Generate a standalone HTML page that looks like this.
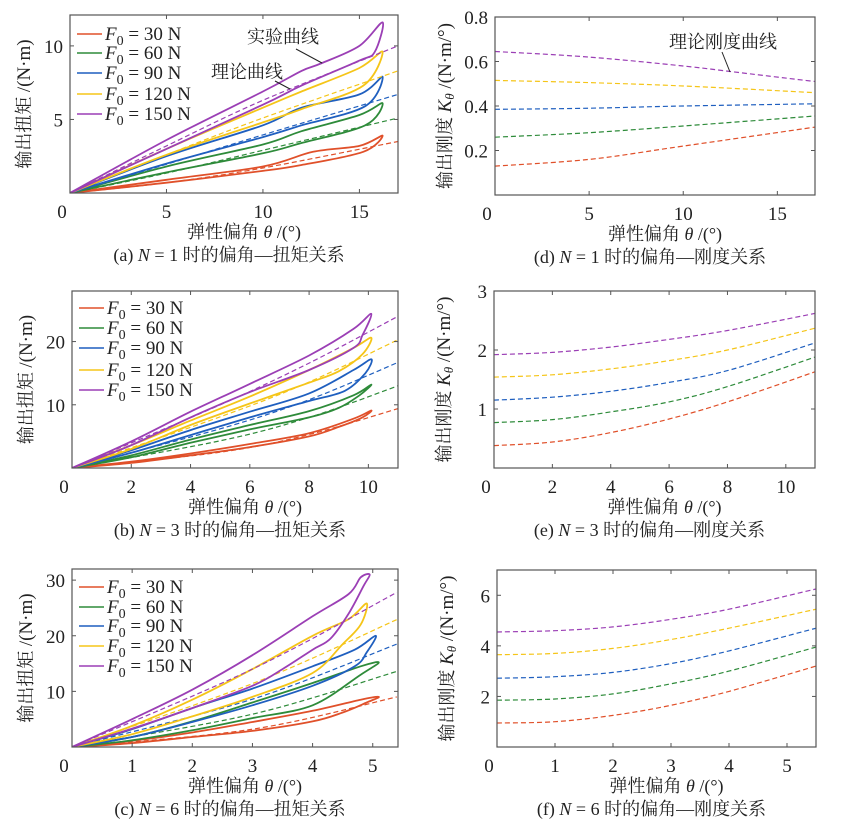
<!DOCTYPE html>
<html><head><meta charset="utf-8">
<style>
html,body{margin:0;padding:0;background:#fff;}
svg{display:block;}
.tk{font-family:"Liberation Serif",serif;font-size:19px;fill:#222;}
.cn{font-family:"Liberation Serif","Noto Serif CJK SC",serif;font-size:18px;fill:#222;}
.lg{font-family:"Liberation Serif",serif;font-size:19px;fill:#222;}
</style></head>
<body>
<svg id="fig" width="843" height="830" viewBox="0 0 843 830" xmlns="http://www.w3.org/2000/svg"></svg>
<script>
const forces = ["30","60","90","120","150"];
const colors = ["#e0502a","#2e8b3a","#1f5fbf","#f5c518","#9b3fb5"];

const loopsA = [
 [[0,0],[5,0.9],[10,1.8],[12.6,2.8],[15,3.2],[16.2,3.9],[15.2,2.8],[12,1.9],[10,1.5],[5,0.7],[0,0]],
 [[0,0],[5,1.8],[10,3.3],[12,4.2],[15,5.3],[16.2,6.1],[15.3,4.6],[12,3.4],[10,2.7],[5,1.4],[0,0]],
 [[0,0],[5,2.5],[10,4.6],[12,5.8],[15,6.7],[16.2,7.9],[15.3,5.9],[12,4.6],[10,3.8],[5,2.0],[0,0]],
 [[0,0],[5,3.0],[10,5.8],[12,6.9],[15,8.5],[16.2,9.6],[15.2,7.3],[12,5.7],[10,4.8],[5,2.6],[0,0]],
 [[0,0],[5,3.6],[10,6.9],[12,8.3],[13,8.8],[15,10.0],[16.2,11.6],[15.8,9.6],[15,9.0],[12,7.3],[10,6.0],[5,3.0],[0,0]]
];
const theoryA = [
 [[0,0],[5,0.7],[10,1.7],[17,3.5]],
 [[0,0],[5,1.35],[10,2.9],[17,5.1]],
 [[0,0],[5,1.95],[10,3.95],[17,6.7]],
 [[0,0],[5,2.6],[10,5.1],[17,8.3]],
 [[0,0],[5,3.2],[10,6.3],[17,10.0]]
];
const loopsB = [
 [[0,0],[2,1.0],[4,2.3],[6,3.8],[8,5.5],[9.5,7.8],[10.1,9.1],[9.8,8.0],[9,6.5],[8,5.0],[6,3.3],[4,2.0],[2,0.8],[0,0]],
 [[0,0],[2,2.0],[4,4.5],[6,6.8],[8,9.0],[9.5,11.5],[10.1,13.2],[9.7,11.5],[9,9.5],[8,8.0],[6,6.1],[4,4.0],[2,1.7],[0,0]],
 [[0,0],[2,2.8],[4,6.0],[6,8.9],[8,11.8],[9.5,15.5],[10.1,17.2],[9.9,15],[9.2,12.2],[8,10.6],[6,8.0],[4,5.2],[2,2.4],[0,0]],
 [[0,0],[2,3.6],[4,7.5],[6,11.3],[8,15.5],[9.5,19],[10.1,20.6],[9.8,18],[9,15.3],[8,13.5],[6,10.2],[4,6.8],[2,3.0],[0,0]],
 [[0,0],[2,4.2],[4,8.9],[6,13.3],[8,17.8],[9.5,22],[10.1,24.4],[9.8,21],[9.5,19],[8,15.5],[6,12],[4,8],[2,3.6],[0,0]]
];
const theoryB = [
 [[0,0],[5,2.5],[8,5.3],[11,9.4]],
 [[0,0],[5,4.3],[8,8.0],[11,13.0]],
 [[0,0],[5,6.2],[8,10.8],[11,16.7]],
 [[0,0],[5,8.1],[8,13.6],[11,20.3]],
 [[0,0],[5,10.0],[8,16.6],[11,24.0]]
];
const loopsC = [
 [[0,0],[1,1.1],[2,2.6],[3,4.5],[4,6.5],[4.8,8.5],[5.1,9.0],[4.9,8],[4.5,6.2],[4,4.6],[3,2.9],[2,1.8],[1,0.7],[0,0]],
 [[0,0],[1,1.8],[2,4.6],[3,8],[4,11.5],[4.8,14.5],[5.1,15.2],[4.8,13],[4,7.5],[3,5.2],[2,3],[1,1.2],[0,0]],
 [[0,0],[1,3.2],[2,7],[3,10.5],[4,14.5],[4.7,17.5],[5.05,20],[4.9,17],[4.7,14.5],[4,11],[3,7.5],[2,4.5],[1,1.8],[0,0]],
 [[0,0],[1,3.8],[2,8.5],[3,14],[4,20],[4.6,23],[4.9,25.8],[4.8,22],[4.5,18.5],[4,13.3],[3,9.0],[2,5.5],[1,2.3],[0,0]],
 [[0,0],[1,5.0],[2,10.3],[3,16.5],[4,23.5],[4.6,27.5],[4.8,30.5],[4.95,31],[4.85,29],[4.6,24],[4.3,19.5],[4,17.5],[3.5,14],[3,11],[2,7],[1,3.3],[0,0]]
];
const theoryC = [
 [[0,0],[3,3.2],[5.4,9.0]],
 [[0,0],[3,5.9],[5.4,13.6]],
 [[0,0],[3,8.6],[5.4,18.5]],
 [[0,0],[3,11.4],[5.4,22.9]],
 [[0,0],[3,14.0],[5.4,27.8]]
];
const stiffD = [
 [[0,0.13],[5,0.16],[10,0.22],[17,0.305]],
 [[0,0.26],[5,0.28],[10,0.31],[17,0.355]],
 [[0,0.385],[5,0.39],[10,0.40],[17,0.41]],
 [[0,0.515],[5,0.505],[10,0.49],[17,0.46]],
 [[0,0.645],[5,0.62],[10,0.58],[12.5,0.555],[17,0.51]]
];
const stiffE = [
 [[0,0.38],[2,0.44],[4,0.6],[6,0.83],[8,1.12],[11,1.63]],
 [[0,0.77],[2,0.82],[4,0.95],[6,1.12],[8,1.38],[11,1.88]],
 [[0,1.15],[2,1.2],[4,1.3],[6,1.45],[8,1.65],[11,2.12]],
 [[0,1.54],[2,1.58],[4,1.68],[6,1.82],[8,2.0],[11,2.37]],
 [[0,1.92],[2,1.96],[4,2.05],[6,2.18],[8,2.33],[11,2.62]]
];
const stiffF = [
 [[0,0.95],[1,1.0],[2,1.25],[3,1.65],[4,2.2],[5.5,3.2]],
 [[0,1.85],[1,1.9],[2,2.1],[3,2.5],[4,3.0],[5.5,3.95]],
 [[0,2.72],[1,2.78],[2,2.95],[3,3.3],[4,3.8],[5.5,4.7]],
 [[0,3.65],[1,3.7],[2,3.9],[3,4.25],[4,4.7],[5.5,5.45]],
 [[0,4.55],[1,4.6],[2,4.75],[3,5.05],[4,5.45],[5.5,6.25]]
];
const ticksAx=["0","5","10","15"], ticksAy=["5","10"];
const ticksBx=["0","2","4","6","8","10"], ticksBy=["10","20"];
const ticksCx=["0","1","2","3","4","5"], ticksCy=["10","20","30"];
const ticksDy=["0.2","0.4","0.6","0.8"], ticksEy=["1","2","3"], ticksFy=["2","4","6"];

const NS="http://www.w3.org/2000/svg";
const svg=document.getElementById('fig');
function mk(tag,attrs,parent){const e=document.createElementNS(NS,tag);for(const k in attrs)e.setAttribute(k,attrs[k]);(parent||svg).appendChild(e);return e;}

function smoothPath(pts,sx,sy){
  const p=pts.map(q=>[sx(q[0]),sy(q[1])]);
  let d="M"+p[0][0].toFixed(1)+","+p[0][1].toFixed(1);
  for(let i=0;i<p.length-1;i++){
    const p0=p[Math.max(0,i-1)],p1=p[i],p2=p[i+1],p3=p[Math.min(p.length-1,i+2)];
    const c1=[p1[0]+(p2[0]-p0[0])/6,p1[1]+(p2[1]-p0[1])/6];
    const c2=[p2[0]-(p3[0]-p1[0])/6,p2[1]-(p3[1]-p1[1])/6];
    d+="C"+c1.map(v=>v.toFixed(1)).join(",")+" "+c2.map(v=>v.toFixed(1)).join(",")+" "+p2[0].toFixed(1)+","+p2[1].toFixed(1);
  }
  return d;
}

function panel(o){
  const g=mk('g',{});
  
  
  const sx=v=>o.L+(v-0)/(o.xmax)*(o.R-o.L);
  const sy=v=>o.B-(v)/(o.ymax)*(o.B-o.T);
  const cid='c'+o.name;
  const cp=mk('clipPath',{id:cid},g);mk('rect',{x:o.L,y:o.T,width:o.R-o.L,height:o.B-o.T},cp);
  const plot=mk('g',{'clip-path':'url(#'+cid+')'},g);
  for(let i=0;i<5;i++){
    if(o.theory){
      const t=mk('path',{d:smoothPath(o.theory[i],sx,sy),fill:'none',stroke:colors[i],'stroke-width':1.2,'stroke-dasharray':'5,3'},plot);
      
      
    }
    if(o.loops){
      const l=mk('path',{d:smoothPath(o.loops[i],sx,sy),fill:'none',stroke:colors[i],'stroke-width':1.8,'stroke-linejoin':'round'},plot);
      
      
    }
  }
  const fr=mk('rect',{x:o.L,y:o.T,width:o.R-o.L,height:o.B-o.T,fill:'none',stroke:'#555','stroke-width':1.2},g);
  
  
  o.xt.forEach(t=>{const v=+t,x=sx(v);
    if(v>0){mk('line',{x1:x,y1:o.B,x2:x,y2:o.B-4,stroke:'#555'},g);mk('line',{x1:x,y1:o.T,x2:x,y2:o.T+4,stroke:'#555'},g);}
    const tx=mk('text',{x:v===0?x-8:x,y:o.B+25,'text-anchor':'middle',class:'tk'},g);tx.textContent=t;
    
    
  });
  o.yt.forEach(t=>{const v=+t,y=sy(v);
    mk('line',{x1:o.L,y1:y,x2:o.L+4,y2:y,stroke:'#555'},g);mk('line',{x1:o.R,y1:y,x2:o.R-4,y2:y,stroke:'#555'},g);
    const ty=mk('text',{x:o.L-7,y:y+7,'text-anchor':'end',class:'tk'},g);ty.textContent=t;
    
    
  });
  const xl=mk('text',{x:(o.L+o.R)/2+10,y:o.B+45,'text-anchor':'middle',class:'cn'},g);
  xl.innerHTML='弹性偏角 <tspan font-style="italic">θ</tspan> /(°)';
  
  
  const yc=(o.T+o.B)/2, yx=o.L-(o.k?44:40);
  const yl=mk('text',{x:yx,y:yc,'text-anchor':'middle',class:'cn',transform:'rotate(-90 '+yx+' '+yc+')'},g);
  yl.innerHTML=o.k?'输出刚度 <tspan font-style="italic" font-size="19">K</tspan><tspan font-style="italic" font-size="13" dy="3">θ</tspan><tspan dy="-3" font-size="19"> /(N·m/°)</tspan>':'输出扭矩 <tspan font-size="19">/(N·m)</tspan>';
  
  
  const cap=mk('text',{x:(o.L+o.R)/2-5,y:o.B+68,'text-anchor':'middle',class:'cn'},g);
  cap.innerHTML=o.cap;
  
  
  if(o.leg){
    o.leg.forEach((yy,i)=>{
      const lg=mk('g',{},g);
      
      
      mk('line',{x1:o.L+7,y1:yy,x2:o.L+32,y2:yy,stroke:colors[i],'stroke-width':1.5},lg);
      const t=mk('text',{x:o.L+35,y:yy+6,class:'lg'},lg);
      t.innerHTML='<tspan font-style="italic">F</tspan><tspan font-size="14" dy="5">0</tspan><tspan dy="-5"> = </tspan>'+forces[i]+' N';
    });
  }
  return g;
}

panel({name:'panel-a',L:70,R:398,T:15,B:193,xmax:17,ymax:12.1,xt:ticksAx,yt:ticksAy,loops:loopsA,theory:theoryA,
  leg:[34,53,73,94,114],cap:'(a) <tspan font-style="italic">N</tspan> = 1 时的偏角—扭矩关系'});
panel({name:'panel-d',L:495,R:815,T:17,B:195,xmax:17,ymax:0.8,xt:ticksAx,yt:ticksDy,theory:stiffD,k:1,
  cap:'(d) <tspan font-style="italic">N</tspan> = 1 时的偏角—刚度关系'});
panel({name:'panel-b',L:72,R:398,T:291,B:468,xmax:11,ymax:28,xt:ticksBx,yt:ticksBy,loops:loopsB,theory:theoryB,
  leg:[308,328,348,370,390],cap:'(b) <tspan font-style="italic">N</tspan> = 3 时的偏角—扭矩关系'});
panel({name:'panel-e',L:494,R:815,T:291,B:468,xmax:11,ymax:3,xt:ticksBx,yt:ticksEy,theory:stiffE,k:1,
  cap:'(e) <tspan font-style="italic">N</tspan> = 3 时的偏角—刚度关系'});
panel({name:'panel-c',L:72,R:398,T:569,B:747,xmax:5.42,ymax:32,xt:ticksCx,yt:ticksCy,loops:loopsC,theory:theoryC,
  leg:[587,607,626,646,666],cap:'(c) <tspan font-style="italic">N</tspan> = 6 时的偏角—扭矩关系'});
panel({name:'panel-f',L:497,R:816,T:570,B:747,xmax:5.5,ymax:7,xt:ticksCx,yt:ticksFy,theory:stiffF,k:1,
  cap:'(f) <tspan font-style="italic">N</tspan> = 6 时的偏角—刚度关系'});

function ann(txt,x,y,x1,y1,x2,y2,name){
  const g=mk('g',{});
  
  
  const t=mk('text',{x:x,y:y,class:'cn'},g);t.textContent=txt;
  mk('line',{x1:x1,y1:y1,x2:x2,y2:y2,stroke:'#222','stroke-width':1},g);
}
ann('实验曲线',247,43,296,49,322,63,'annotation-experiment');
ann('理论曲线',211,78,275,81,290,89,'annotation-theory');
ann('理论刚度曲线',669,48,722,52,730,72,'annotation-theory-stiffness');
</script>
</body></html>
